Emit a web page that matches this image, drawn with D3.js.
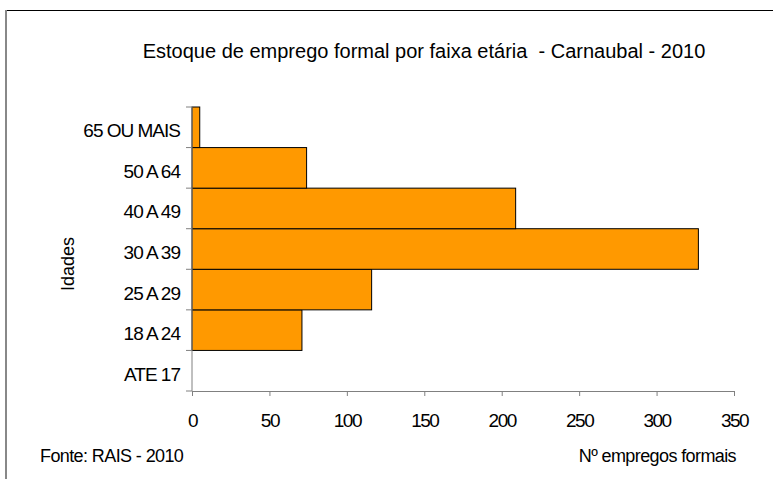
<!DOCTYPE html>
<html>
<head>
<meta charset="utf-8">
<script src="https://cdn.jsdelivr.net/npm/d3@7"></script>
<style>
  body { margin: 0; background: #fff; }
  text { font-family: "Liberation Sans", Arial, sans-serif; fill: #000; }
</style>
</head>
<body>
<div id="chart"></div>
<script>
// data (bottom to top as drawn)
const faixas = ["ATE 17", "18 A 24", "25 A 29", "30 A 39", "40 A 49", "50 A 64", "65 OU MAIS"];
const empregos = [0, 71, 116, 327, 209, 74, 5];
const xTicks = [0, 50, 100, 150, 200, 250, 300, 350];

const width = 773,
  height = 479,
  margin = { top: 107, bottom: 88, left: 192, right: 39 };

const svg = d3.select("#chart")
  .append("svg")
  .attr("width", width)
  .attr("height", height);

// outer frame (cut by the window at right and bottom)
svg.append("rect")
  .attr("x", 6.5).attr("y", 10.5)
  .attr("width", 900).attr("height", 600)
  .attr("fill", "none")
  .attr("stroke", "#000");
svg.append("line")
  .attr("x1", 6).attr("x2", 6).attr("y1", 10).attr("y2", height)
  .attr("stroke", "#888").attr("stroke-width", 2);

const x = d3.scaleLinear()
  .domain([0, 350])
  .range([margin.left, width - margin.right]);

// top category first in range so it sits on top
const y = d3.scaleBand()
  .domain(faixas.slice().reverse())
  .range([margin.top, height - margin.bottom])
  .padding(0);

// bars
svg.selectAll("rect.bar")
  .data(faixas.map((f, i) => ({ f, v: empregos[i] })))
  .join("rect")
  .attr("class", "bar")
  .attr("x", x(0))
  .attr("y", d => y(d.f))
  .attr("width", d => x(d.v) - x(0))
  .attr("height", y.bandwidth())
  .attr("fill", "#FF9900")
  .attr("stroke", "#000")
  .attr("stroke-width", 1)
  .attr("display", d => d.v > 0 ? null : "none");

// x axis
const xAxis = svg.append("g")
  .attr("transform", `translate(0,${height - margin.bottom})`)
  .call(d3.axisBottom(x).tickValues(xTicks).tickSize(5).tickPadding(18).tickFormat(d3.format("d")));
xAxis.select(".domain").attr("stroke", "#808080");
xAxis.selectAll(".tick line").attr("stroke", "#808080");
xAxis.selectAll(".tick text")
  .attr("font-size", 19)
  .attr("letter-spacing", "-1.5px")
  .attr("font-family", "Liberation Sans, Arial, sans-serif");

// y axis: ticks at band boundaries
const yAxis = svg.append("g")
  .attr("transform", `translate(${margin.left},0)`);
yAxis.append("line")
  .attr("x1", 0).attr("x2", 0)
  .attr("y1", margin.top).attr("y2", height - margin.bottom)
  .attr("stroke", "#808080");
const bounds = y.domain().map(d => y(d)).concat([y.range()[1]]);
yAxis.selectAll("line.tk")
  .data(bounds)
  .join("line")
  .attr("class", "tk")
  .attr("x1", -6).attr("x2", 0)
  .attr("y1", d => d).attr("y2", d => d)
  .attr("stroke", "#808080");
yAxis.selectAll("text")
  .data(y.domain())
  .join("text")
  .attr("x", -12)
  .attr("y", d => y(d) + y.bandwidth() / 2 + 10)
  .attr("text-anchor", "end")
  .attr("font-size", 19)
  .attr("letter-spacing", "-1px")
  .text(d => d);

// titles
svg.append("text")
  .attr("x", 424).attr("y", 58)
  .attr("text-anchor", "middle")
  .attr("font-size", 20)
  .style("white-space", "pre")
  .text("Estoque de emprego formal por faixa etária  - Carnaubal - 2010");

svg.append("text")
  .attr("transform", "translate(74,264) rotate(-90)")
  .attr("text-anchor", "middle")
  .attr("font-size", 18)
  .text("Idades");

svg.append("text")
  .attr("x", 40).attr("y", 462)
  .attr("font-size", 18)
  .attr("letter-spacing", "-0.6px")
  .text("Fonte: RAIS - 2010");

svg.append("text")
  .attr("x", 736).attr("y", 462)
  .attr("text-anchor", "end")
  .attr("font-size", 18)
  .attr("letter-spacing", "-0.6px")
  .text("Nº empregos formais");
</script>
</body>
</html>
